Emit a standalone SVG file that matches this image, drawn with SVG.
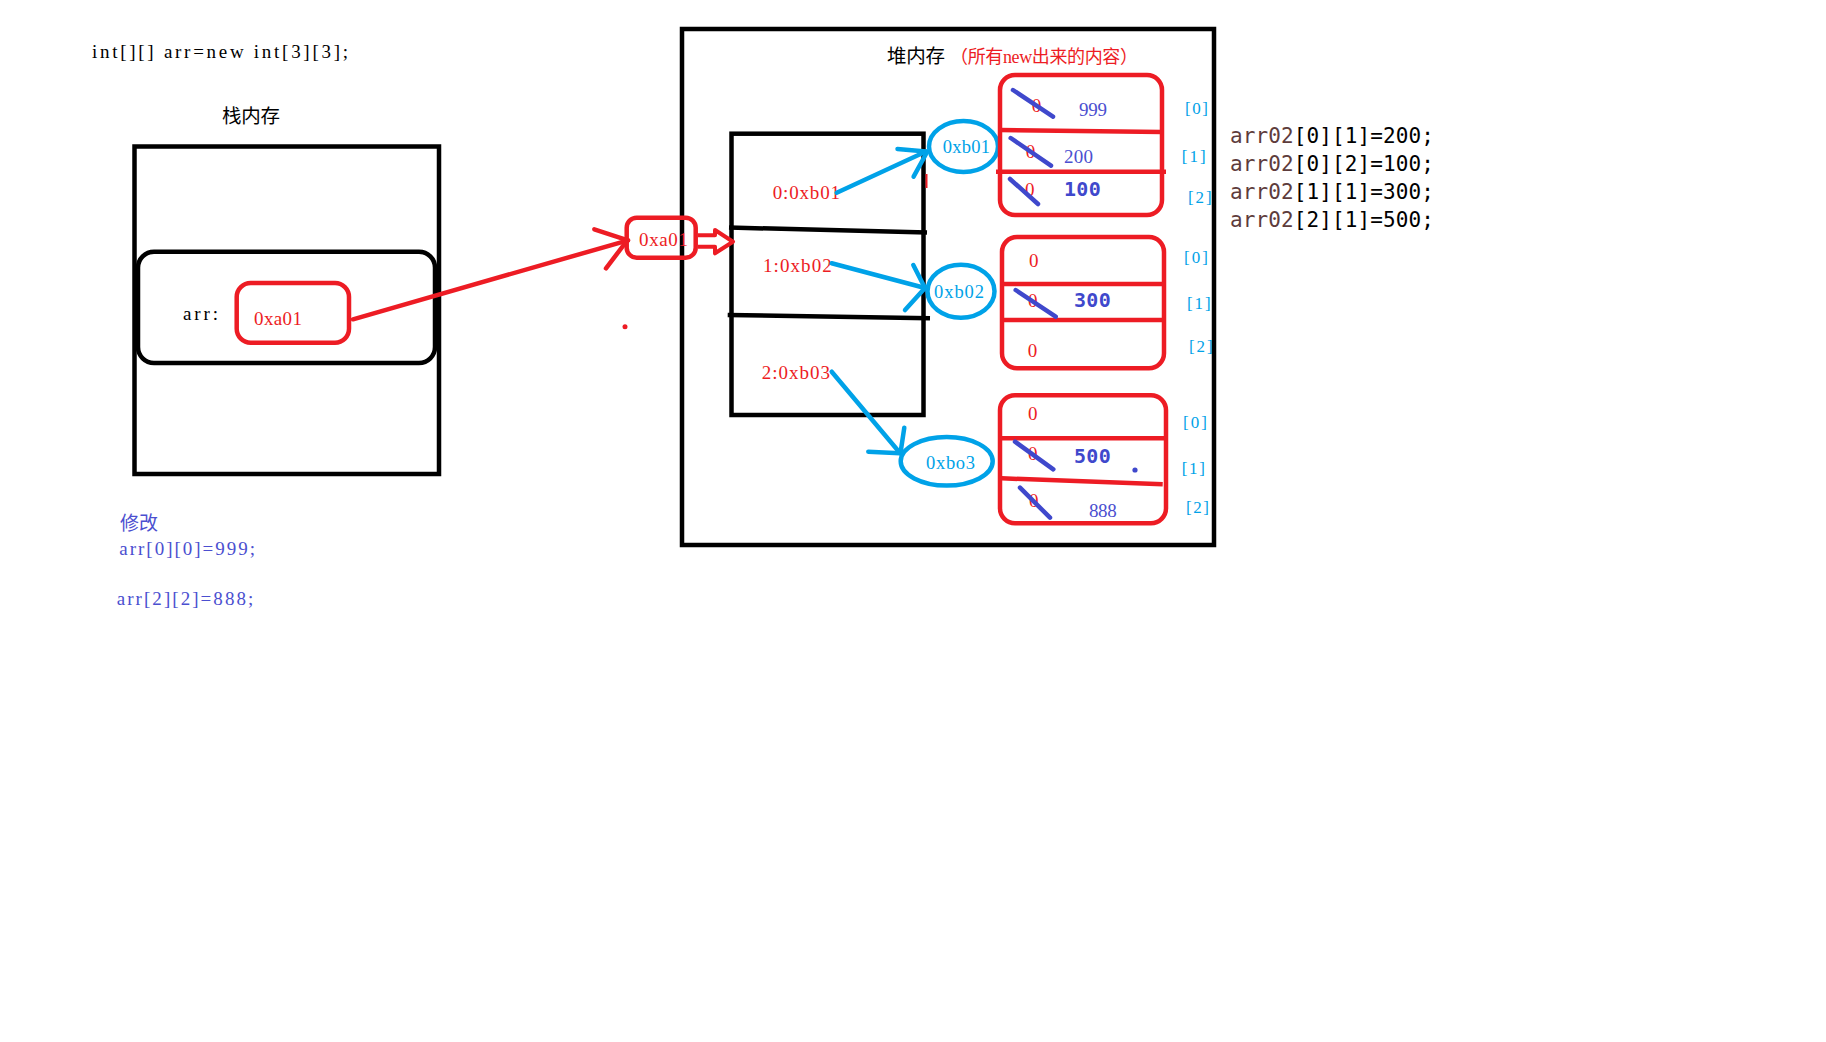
<svg xmlns="http://www.w3.org/2000/svg" width="1826" height="1042" viewBox="0 0 1826 1042">
<style>
.t{font-family:"Liberation Serif","Noto Sans CJK SC",serif;font-size:19px}
.cjk{font-family:"Noto Sans CJK SC","Liberation Serif",serif;font-size:19.5px;fill:#000}
.red{fill:#ed1c24}
.cy{fill:#00a2e8}
.ind{fill:#4b4fd0}
.blk{fill:#000}
.mono{font-family:"DejaVu Sans Mono","Liberation Mono",monospace;font-size:20px;font-weight:bold;fill:#3f48cc}
.code{font-family:"DejaVu Sans Mono","Liberation Mono",monospace;font-size:21px;fill:#000}
.bk{fill:none;stroke:#000;stroke-width:4.5}
.rb{fill:none;stroke:#ed1c24;stroke-width:4.5}
.rl{fill:none;stroke:#ed1c24;stroke-width:4.5;stroke-linecap:round}
.cl{fill:none;stroke:#00a2e8;stroke-width:4.5;stroke-linecap:round}
.st{fill:none;stroke:#3f48cc;stroke-width:4.5;stroke-linecap:round}
.idx{font-family:"Liberation Serif",serif;font-size:17px;fill:#00a2e8}
</style>
<rect width="1826" height="1042" fill="#fff"/>

<text class="t blk" x="92" y="58" textLength="256">int[][] arr=new int[3][3];</text>

<g id="stack">
<text class="cjk" x="222" y="123" textLength="58">栈内存</text>
<rect class="bk" x="134.5" y="146.5" width="304.5" height="327.5"/>
<rect class="bk" x="138" y="251.7" width="297" height="111.3" rx="16"/>
<text class="t blk" x="183" y="320" textLength="35">arr:</text>
</g>

<g id="stack-ref">
<rect class="rb" x="236.7" y="283" width="112.3" height="59.7" rx="14"/>
<text class="t red" x="254" y="325" textLength="48">0xa01</text>
</g>

<g id="heap-labels">
<text class="idx" x="1185" y="114" textLength="23">[0]</text>
<text class="idx" x="1181.7" y="161.7" textLength="24">[1]</text>
<text class="idx" x="1188" y="202.7" textLength="23.7">[2]</text>
<text class="idx" x="1184" y="263.3" textLength="24">[0]</text>
<text class="idx" x="1187" y="309.3" textLength="23.7">[1]</text>
<text class="idx" x="1189" y="351.7" textLength="23.7">[2]</text>
<text class="idx" x="1183" y="428.3" textLength="24">[0]</text>
<text class="idx" x="1181.7" y="474" textLength="23.3">[1]</text>
<text class="idx" x="1186" y="512.7" textLength="23">[2]</text>
</g>

<g id="heap">
<rect class="bk" x="682" y="29" width="532" height="516"/>
<text class="cjk" x="887" y="63" textLength="58">堆内存</text>
<text class="t red" x="950" y="63" style="font-size:18px" textLength="188">（所有new出来的内容）</text>
</g>

<g id="heap-ref">
<rect class="rb" x="626.7" y="217.7" width="69" height="40" rx="10"/>
<text class="t red" x="639" y="245.7" textLength="49">0xa01</text>
</g>

<g id="outer-array">
<rect class="bk" x="731.5" y="133.7" width="192" height="281.3"/>
<line class="bk" x1="729" y1="227.5" x2="927" y2="232.5"/>
<line class="bk" x1="727.7" y1="315" x2="930" y2="318.3"/>
<text class="t red" x="772.7" y="199" textLength="67.3">0:0xb01</text>
<text class="t red" x="763" y="271.7" textLength="68.7">1:0xb02</text>
<text class="t red" x="761.7" y="379.3" textLength="68.3">2:0xb03</text>
<line x1="926.5" y1="174" x2="926.5" y2="188" stroke="#ed1c24" stroke-width="2"/>
</g>

<g id="ref-b01">
<ellipse class="cl" cx="963.5" cy="146.5" rx="34.5" ry="25.5"/>
<text class="t cy" x="942.7" y="152.7" style="font-size:18.5px" textLength="47.3">0xb01</text>
</g>
<g id="ref-b02">
<ellipse class="cl" cx="961" cy="291.3" rx="33.5" ry="26.5"/>
<text class="t cy" x="934" y="298.3" style="font-size:18.5px" textLength="50">0xb02</text>
</g>
<g id="ref-b03">
<ellipse class="cl" cx="946.7" cy="461.3" rx="46" ry="24.3"/>
<text class="t cy" x="926" y="469" style="font-size:18.5px" textLength="49">0xbo3</text>
</g>

<g id="array0">
<rect class="rb" x="1000" y="75" width="162" height="140" rx="15"/>
<line class="rb" x1="1000" y1="130" x2="1162" y2="132"/>
<line class="rb" x1="996" y1="171.7" x2="1166" y2="171.7"/>
<text class="t red" x="1031.7" y="111.7">0</text>
<line class="st" x1="1013" y1="90" x2="1053" y2="116.7"/>
<text class="t ind" x="1079" y="116" textLength="28">999</text>
<text class="t red" x="1025.7" y="158">0</text>
<line class="st" x1="1010.7" y1="138" x2="1051" y2="165.7"/>
<text class="t ind" x="1064" y="162.7" textLength="29">200</text>
<text class="t red" x="1025" y="195.7">0</text>
<line class="st" x1="1010" y1="179" x2="1038" y2="204"/>
<text class="mono" x="1064" y="196" textLength="36.7">100</text>
</g>

<g id="array1">
<rect class="rb" x="1002" y="237" width="162" height="131.3" rx="15"/>
<line class="rb" x1="1002" y1="284" x2="1164" y2="284"/>
<line class="rb" x1="1002" y1="320" x2="1164" y2="320"/>
<text class="t red" x="1029" y="266.7">0</text>
<text class="t red" x="1028" y="306.7">0</text>
<line class="st" x1="1015.7" y1="290" x2="1055.7" y2="316.7"/>
<text class="mono" x="1074" y="307.3" textLength="36.7">300</text>
<text class="t red" x="1027.7" y="357.3">0</text>
</g>

<g id="array2">
<rect class="rb" x="1000" y="395.3" width="166" height="128" rx="15"/>
<line class="rb" x1="1000" y1="438.3" x2="1166" y2="438.3"/>
<line class="rb" x1="1001.7" y1="478.3" x2="1162.7" y2="484.3"/>
<text class="t red" x="1028" y="420">0</text>
<text class="t red" x="1028" y="460">0</text>
<line class="st" x1="1015" y1="441.7" x2="1053.3" y2="469.3"/>
<text class="mono" x="1074" y="463.3" textLength="36.7">500</text>
<circle cx="1135" cy="470" r="2.6" fill="#3f48cc"/>
<text class="t red" x="1029" y="506.7">0</text>
<line class="st" x1="1020" y1="487.7" x2="1050" y2="517.7"/>
<text class="t ind" x="1089" y="516.7" textLength="27.7">888</text>
</g>

<g id="connectors">
<line class="rl" x1="353" y1="319.3" x2="628" y2="240.3"/>
<line class="rl" x1="594.3" y1="229.3" x2="628" y2="240.3"/>
<line class="rl" x1="606" y1="268.3" x2="626" y2="242"/>
<path d="M698,235.3 L715,235.3 L715,230 L733,241.7 L715,253.3 L715,246.7 L698,246.7" fill="#fff" stroke="#ed1c24" stroke-width="4" stroke-linejoin="round"/>
<circle cx="625" cy="326.7" r="2.5" fill="#ed1c24"/>

<line class="cl" x1="836.7" y1="192.7" x2="926" y2="151.5"/>
<line class="cl" x1="897.5" y1="149" x2="926" y2="151.5"/>
<line class="cl" x1="913.6" y1="176.7" x2="926" y2="154"/>

<line class="cl" x1="831.7" y1="263.3" x2="925" y2="288"/>
<line class="cl" x1="913.3" y1="265" x2="925" y2="288"/>
<line class="cl" x1="905" y1="310" x2="925" y2="288"/>

<line class="cl" x1="831.7" y1="371.7" x2="900" y2="453"/>
<line class="cl" x1="904.3" y1="427.7" x2="900.7" y2="451.7"/>
<line class="cl" x1="868.3" y1="451.7" x2="900" y2="453.3"/>
</g>

<g id="notes">
<text class="code" x="1230" y="142.7" textLength="204"><tspan fill="#5e3c3c">arr02</tspan>[0][1]=200;</text>
<text class="code" x="1230" y="170.7" textLength="204"><tspan fill="#5e3c3c">arr02</tspan>[0][2]=100;</text>
<text class="code" x="1230" y="199" textLength="204"><tspan fill="#5e3c3c">arr02</tspan>[1][1]=300;</text>
<text class="code" x="1230" y="226.7" textLength="204"><tspan fill="#5e3c3c">arr02</tspan>[2][1]=500;</text>
<text class="cjk" x="120" y="530" style="fill:#4b4fd0;font-size:19px" textLength="38">修改</text>
<text class="t ind" x="119.3" y="555" textLength="135.7">arr[0][0]=999;</text>
<text class="t ind" x="116.7" y="605" textLength="136.6">arr[2][2]=888;</text>
</g>
</svg>
